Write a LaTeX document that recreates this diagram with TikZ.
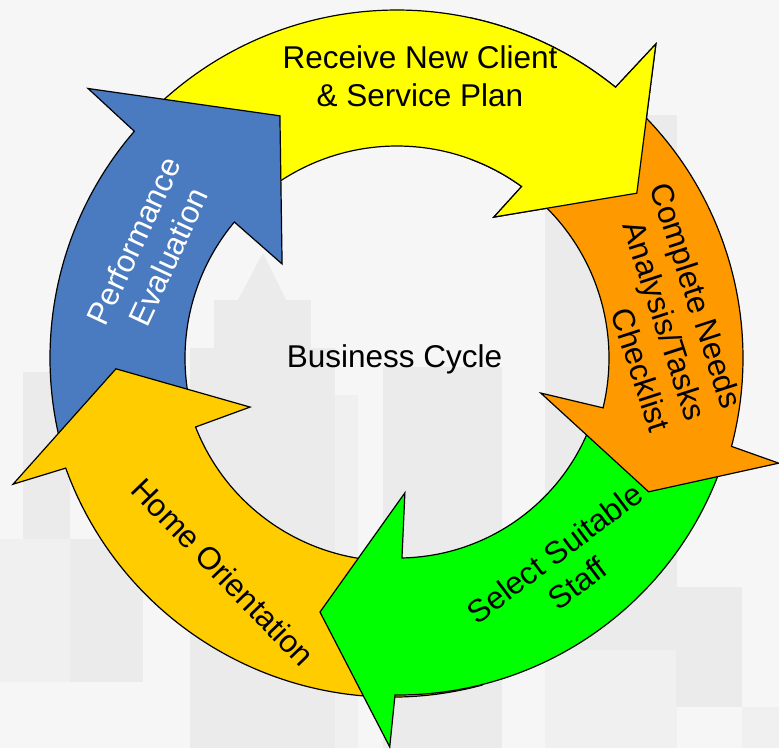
\documentclass[tikz,border=0pt]{standalone}
\usepackage{fontspec}
\setmainfont{Liberation Sans}
\definecolor{bg}{HTML}{F6F6F6}
\definecolor{bld}{HTML}{EBEBEB}
\definecolor{bldl}{HTML}{F0F0F0}
\definecolor{bldw}{HTML}{F8F8F8}
\definecolor{cyel}{HTML}{FFFF00}
\definecolor{corg}{HTML}{FF9900}
\definecolor{cgrn}{HTML}{00FF00}
\definecolor{cgold}{HTML}{FFCC00}
\definecolor{cblue}{HTML}{4A7BC0}
\begin{document}
\begin{tikzpicture}[x=1pt,y=1pt,
  arrowshape/.style={draw=black, line width=1.2pt, line join=miter},
  lbl/.style={font=\fontsize{31.5}{37.8}\selectfont, align=center, inner sep=0pt}]
\useasboundingbox (0,0) rectangle (779,-748);
% background city
\fill[bg] (0,0) rectangle (779,-748);
\fill[bld] (23,-372) rectangle (70,-539);
\fill[bldl] (0,-539) rectangle (70,-682);
\fill[bld] (70,-539) rectangle (143,-682);
\fill[bld] (190,-348) rectangle (335,-748);
\fill[bld] (214,-300) rectangle (311,-348);
\fill[bld] (238,-300) -- (263,-253) -- (286,-300) -- cycle;
\fill[bldl] (335,-395) rectangle (358,-748);
\fill[bld] (383,-367) rectangle (502,-748);
\fill[bld] (545,-115) rectangle (677,-650);
\fill[bldl] (545,-650) rectangle (677,-748);
\fill[bld] (676,-587) rectangle (742,-707);
\fill[bldl] (742,-707) rectangle (779,-748);
% yellow: Receive New Client
\begin{scope}[shift={(397,-358)}]
\filldraw[arrowshape, fill=cyel] (132:348pt) arc[start angle=132, end angle=51.1, radius=348pt]
  -- (50.5:407pt) -- (34.5:291pt) -- (55.5:171pt) -- (54:212pt)
  arc[start angle=54, end angle=132, radius=212pt] -- cycle;
\end{scope}
% blue: Performance Evaluation
\begin{scope}[shift={(397,-358)}]
\filldraw[arrowshape, fill=cblue] (198:347pt) arc[start angle=198, end angle=139.2, radius=347pt]
  -- (138.9:410pt) -- (115.8:269pt) -- (140.7:148.5pt) -- (140.1:212pt)
  arc[start angle=140.1, end angle=198, radius=212pt] -- cycle;
\end{scope}
% gold: Home Orientation
\begin{scope}[shift={(392,-350)}]
\filldraw[arrowshape, fill=cgold] (285:347pt) arc[start angle=285, end angle=199.9, radius=347pt]
  -- (199.5:402pt) -- (183.9:276.7pt) -- (201.9:153pt) -- (201.4:211pt)
  arc[start angle=201.4, end angle=285, radius=211pt] -- cycle;
\end{scope}
% green: Select Suitable Staff
\begin{scope}[shift={(398,-352)}]
\filldraw[arrowshape, fill=cgrn] (-18:343pt) arc[start angle=-18, end angle=-90.5, radius=343pt]
  -- (-91.2:395pt) -- (-106.7:271.5pt) -- (-87.2:141pt) -- (-88.9:206pt)
  arc[start angle=-88.9, end angle=-18, radius=206pt] -- cycle;
\end{scope}
% orange: Complete Needs
\begin{scope}[shift={(397,-358)}]
\filldraw[arrowshape, fill=corg] (47:346pt) arc[start angle=47, end angle=-14.8, radius=346pt]
  -- (-15.4:396pt) -- (-28:285pt) -- (-13.7:148pt) -- (-13.6:212pt)
  arc[start angle=-13.6, end angle=47, radius=212pt] -- cycle;
\end{scope}
% yellow head again, over orange tail
\begin{scope}
\clip (470,0) rectangle (779,-300);
\begin{scope}[shift={(397,-358)}]
\filldraw[arrowshape, fill=cyel] (132:348pt) arc[start angle=132, end angle=51.1, radius=348pt]
  -- (50.5:407pt) -- (34.5:291pt) -- (55.5:171pt) -- (54:212pt)
  arc[start angle=54, end angle=132, radius=212pt] -- cycle;
\end{scope}
\end{scope}
% labels
\node[lbl] (recv) at (420,-76) {Receive New Client\\\& Service Plan};
\node[lbl, align=right, rotate=-72, anchor=east] (needs) at (697,-419) {Complete Needs\\Analysis/Tasks\\Checklist};
\node[lbl, rotate=37] (staff) at (566,-568) {Select Suitable\\Staff};
\node[lbl, rotate=-46] (home) at (223,-572) {Home Orientation};
\node[lbl, rotate=65, text=white] (perf) at (151,-249) {Performance\\Evaluation};
\node[lbl, anchor=base] (bc) at (394.5,-367) {Business Cycle};
\end{tikzpicture}
\end{document}
